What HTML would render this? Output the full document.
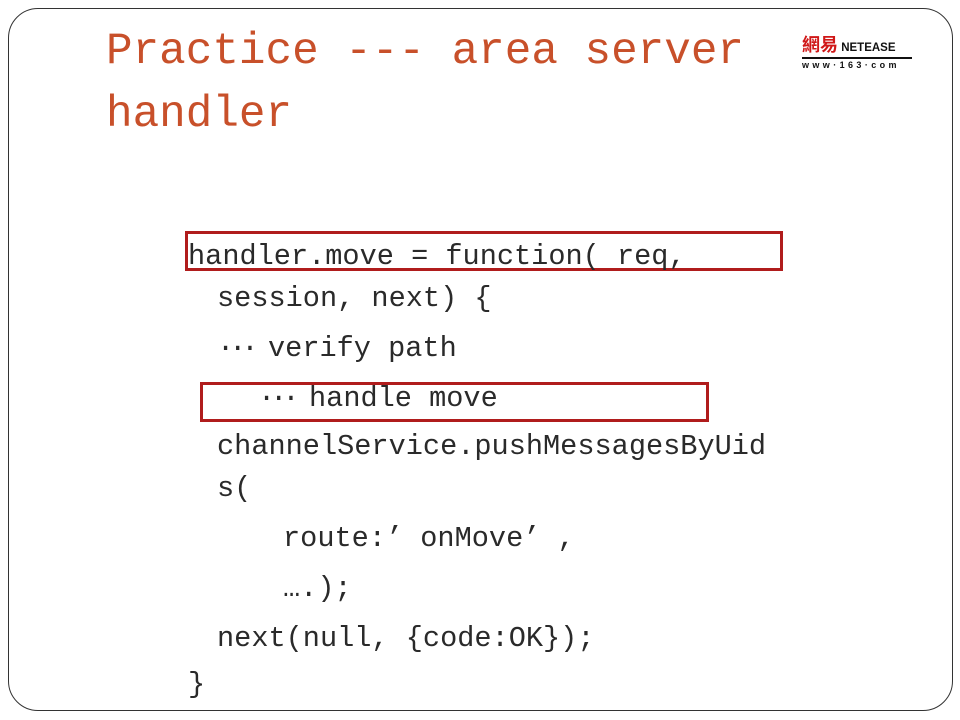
<!DOCTYPE html>
<html><head><meta charset="utf-8"><style>
body{margin:0;width:960px;height:720px;background:#fff;position:relative;overflow:hidden}
.frame{position:absolute;left:8px;top:8px;width:943px;height:701px;border:1.5px solid #333;border-radius:30px}
.t{position:absolute;font-family:"Liberation Mono","Noto Sans CJK SC",monospace;font-size:44.3px;color:#c8502a;white-space:pre;line-height:1}
.c{position:absolute;font-family:"Liberation Mono","Noto Sans CJK SC",monospace;font-size:28.6px;color:#2a2a2a;white-space:pre;line-height:1}
.e{display:inline-block;width:51px;letter-spacing:-5px}
.box{position:absolute;border:3px solid #b01c1c}
</style></head><body>
<div class="frame"></div>
<div class="t" style="left:106px;top:30px">Practice --- area server</div>
<div class="t" style="left:106px;top:93px">handler</div>
<div style="position:absolute;left:802px;top:31px;font-family:'Liberation Sans','Noto Sans CJK SC',sans-serif;">
 <span style="color:#d01818;font-weight:bold;font-size:18px">網易</span><span style="font-weight:bold;font-size:11.5px;color:#111"> NETEASE</span>
 <div style="border-top:2px solid #111;width:110px;font-size:9px;font-weight:bold;letter-spacing:3.4px;color:#111;line-height:12px">www·163·com</div>
</div>
<div class="box" style="left:185px;top:231px;width:592px;height:34px"></div>
<div class="box" style="left:200px;top:382px;width:503px;height:34px"></div>
<div class="c" style="left:188px;top:243px">handler.move = function( req,</div>
<div class="c" style="left:217px;top:285px">session, next) {</div>
<div class="c" style="left:217px;top:335px"><span class="e">···</span>verify path</div>
<div class="c" style="left:258px;top:385px"><span class="e">···</span>handle move</div>
<div class="c" style="left:217px;top:433px">channelService.pushMessagesByUid</div>
<div class="c" style="left:217px;top:475px">s(</div>
<div class="c" style="left:283px;top:525px">route:’ onMove’ ,</div>
<div class="c" style="left:283px;top:575px">….);</div>
<div class="c" style="left:217px;top:625px">next(null, {code:OK});</div>
<div class="c" style="left:188px;top:671px">}</div>
</body></html>
